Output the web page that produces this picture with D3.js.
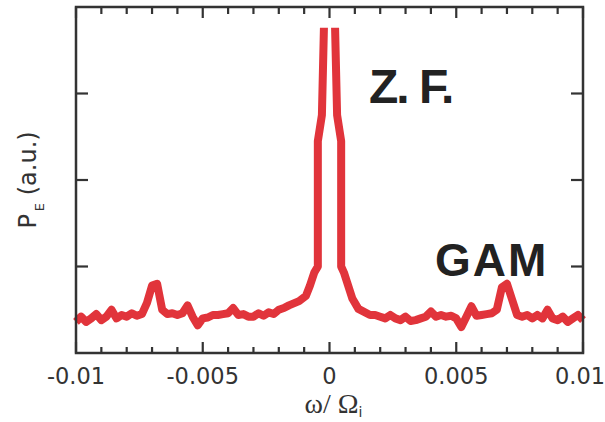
<!DOCTYPE html>
<html>
<head>
<meta charset="utf-8">
<title>P_E spectrum</title>
<script src="https://cdn.jsdelivr.net/npm/d3@7/dist/d3.min.js"></script>
<style>
  body { margin: 0; background: #fff; }
</style>
</head>
<body>
<svg id="chart" width="605" height="422"></svg>
<script>
  // data ======================================================
  var omega = [-0.0100,-0.0098,-0.0096,-0.0094,-0.0092,-0.0090,-0.0088,-0.0086,-0.0084,-0.0082,
               -0.0080,-0.0078,-0.0076,-0.0074,-0.0072,-0.0070,-0.0068,-0.0066,-0.0064,-0.0062,
               -0.0060,-0.0058,-0.0056,-0.0054,-0.0052,-0.0050,-0.0048,-0.0046,-0.0044,-0.0042,
               -0.0040,-0.0038,-0.0036,-0.0034,-0.0032,-0.0030,-0.0028,-0.0026,-0.0024,-0.0022,
               -0.0020,-0.0018,-0.0016,-0.0012,-0.00093,-0.00077,-0.0006,-0.00046,-0.00046,-0.0003,
               -0.00022, 0.0000, 0.00022, 0.0003, 0.00046, 0.00046, 0.00057, 0.00069, 0.0009, 0.00114,
                0.0016, 0.0018, 0.0020, 0.0022, 0.0024, 0.0026, 0.0028, 0.0030, 0.0032, 0.0034,
                0.0036, 0.0038, 0.0040, 0.0042, 0.0044, 0.0046, 0.0048, 0.0050, 0.0052, 0.0054,
                0.0056, 0.0058, 0.0060, 0.0062, 0.0064, 0.0066, 0.0068, 0.0070, 0.0072, 0.0074,
                0.0076, 0.0078, 0.0080, 0.0082, 0.0084, 0.0086, 0.0088, 0.0090, 0.0092, 0.0094,
                0.0096, 0.0098, 0.0100];
  // power, arbitrary units; null = off scale (Z.F. peak top)
  var power = [0.36,0.42,0.36,0.40,0.45,0.38,0.42,0.50,0.40,0.44,
               0.42,0.46,0.43,0.45,0.58,0.78,0.80,0.50,0.45,0.46,
               0.44,0.46,0.55,0.42,0.32,0.40,0.41,0.44,0.44,0.45,
               0.46,0.52,0.44,0.45,0.42,0.42,0.46,0.43,0.47,0.45,
               0.50,0.52,0.55,0.60,0.66,0.78,0.93,1.00,2.45,2.75,
               3.76,null,3.76,2.75,2.45,1.00,0.93,0.82,0.63,0.51,
               0.44,0.44,0.42,0.40,0.44,0.40,0.38,0.42,0.37,0.38,
               0.40,0.42,0.48,0.42,0.44,0.42,0.43,0.40,0.30,0.42,
               0.54,0.43,0.44,0.45,0.46,0.50,0.76,0.80,0.62,0.44,
               0.42,0.44,0.40,0.44,0.40,0.50,0.40,0.38,0.42,0.36,
               0.40,0.44,0.38];
  var xTickLabels = ["-0.01", "-0.005", "0", "0.005", "0.01"];
  var xMajor = [-0.01, -0.005, 0, 0.005, 0.01];
  var yTicks = [1, 2, 3];

  var chart = d3.select("#chart");
  var margin = {top: 7, bottom: 69, left: 76, right: 22};
  var svgWidth = 605, svgHeight = 422;

  var x = d3.scaleLinear().domain([-0.01, 0.01]).range([margin.left, svgWidth - margin.right]);
  var y = d3.scaleLinear().domain([0, 4]).range([svgHeight - margin.bottom, margin.top]);
  var axisColor = "#333";

  // minor x ticks every 0.001
  var xMinor = d3.range(-10, 11).map(function(d) { return d / 1000; });

  // bottom ticks (inward)
  chart.append("g").selectAll("line").data(xMinor).join("line")
       .attr("x1", function(d) { return x(d); }).attr("x2", function(d) { return x(d); })
       .attr("y1", y(0))
       .attr("y2", function(d, i) { return y(0) - (i % 5 == 0 ? 11 : 6); })
       .style("stroke", axisColor).style("stroke-width", 2.2);
  // top ticks
  chart.append("g").selectAll("line").data(xMinor).join("line")
       .attr("x1", function(d) { return x(d); }).attr("x2", function(d) { return x(d); })
       .attr("y1", y(4))
       .attr("y2", function(d, i) { return y(4) + (i % 5 == 0 ? 11 : 7); })
       .style("stroke", axisColor).style("stroke-width", 2.2);
  // left & right ticks
  chart.append("g").selectAll("line").data(yTicks).join("line")
       .attr("x1", x(-0.01)).attr("x2", x(-0.01) + 12)
       .attr("y1", function(d) { return y(d); }).attr("y2", function(d) { return y(d); })
       .style("stroke", axisColor).style("stroke-width", 2.2);
  chart.append("g").selectAll("line").data(yTicks).join("line")
       .attr("x1", x(0.01)).attr("x2", x(0.01) - 12)
       .attr("y1", function(d) { return y(d); }).attr("y2", function(d) { return y(d); })
       .style("stroke", axisColor).style("stroke-width", 2.2);

  // x tick labels (last one nudged to stay inside the page)
  chart.append("g").selectAll("text").data(xMajor).join("text")
       .attr("x", function(d, i) { return x(d) - (i == xMajor.length - 1 ? 3 : 0); })
       .attr("y", y(0) + 31)
       .text(function(d, i) { return xTickLabels[i]; })
       .style("font-family", "DejaVu Sans, sans-serif").style("font-size", "22.5px")
       .style("fill", "#333").style("text-anchor", "middle");

  // spectrum line
  var line = d3.line()
       .defined(function(d) { return d[1] !== null; })
       .x(function(d) { return x(d[0]); })
       .y(function(d) { return y(d[1]); });
  var pts = omega.map(function(d, i) { return [d, power[i]]; });
  chart.append("path").datum(pts)
       .attr("d", line)
       .style("fill", "none").style("stroke", "#e1343b")
       .style("stroke-width", 8).style("stroke-linejoin", "round").style("stroke-linecap", "butt");

  // frame
  chart.append("rect")
       .attr("x", x(-0.01)).attr("y", y(4))
       .attr("width", x(0.01) - x(-0.01)).attr("height", y(0) - y(4))
       .style("fill", "none").style("stroke", axisColor).style("stroke-width", 2.5);

  // annotations
  chart.append("text").attr("x", 369).attr("y", 103).text("Z. F.")
       .style("font-family", "Liberation Sans, Arial, sans-serif").style("font-weight", "bold")
       .style("font-size", "48px").style("letter-spacing", "-2px").style("fill", "#222");
  chart.append("text").attr("x", 435).attr("y", 276).text("GAM")
       .style("font-family", "Liberation Sans, Arial, sans-serif").style("font-weight", "bold")
       .style("font-size", "46px").style("letter-spacing", "2px").style("fill", "#222");

  // axis titles
  var xt = chart.append("text").attr("x", x(0) + 4).attr("y", 413)
       .style("font-family", "Liberation Serif, serif").style("font-size", "28px")
       .style("fill", "#333").style("text-anchor", "middle");
  xt.append("tspan").text("ω/ Ω");
  xt.append("tspan").text("i").attr("dy", 4).style("font-size", "14px").style("font-family", "DejaVu Sans, sans-serif");

  var yt = chart.append("text")
       .attr("transform", "translate(36," + y(2) + ") rotate(-90)")
       .style("font-family", "DejaVu Sans, sans-serif").style("font-size", "24px")
       .style("fill", "#333").style("text-anchor", "middle");
  yt.append("tspan").text("P");
  yt.append("tspan").text("E").attr("dy", 8).attr("dx", 3).style("font-size", "13px");
  yt.append("tspan").text(" (a.u.)").attr("dy", -8);
</script>
</body>
</html>
